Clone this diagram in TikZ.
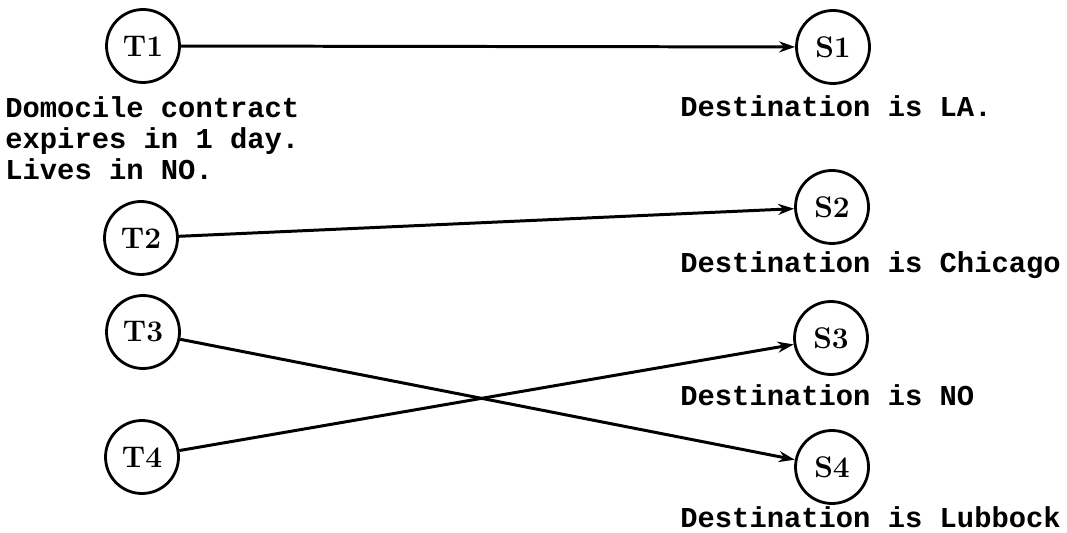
\documentclass[tikz,border=0pt]{standalone}
\usepackage{fontspec}
\setmonofont{Liberation Mono}
\usetikzlibrary{arrows,arrows.meta,shapes,positioning}

\begin{document}
\begin{tikzpicture}[x=0.02cm,y=-0.02cm,>={Stealth[length=3.2mm,width=2.2mm]},
	Edge/.style={->,black,line width=1.7pt},
	Task/.style={circle,draw=black,line width=1.6pt,minimum size=1.46cm,inner sep=0pt,font=\bfseries\fontsize{17}{17}\selectfont},
	Note/.style={align=left,inner sep=0pt,font=\ttfamily\bfseries\fontsize{16.4}{17.9}\selectfont},
]
	\useasboundingbox (0,0) rectangle (1067,533);

	\node[Task] (T1) at (143,46) {T1};
	\node[Task] (T2) at (141,238) {T2};
	\node[Task] (T3) at (143,332) {T3};
	\node[Task] (T4) at (142,457) {T4};

	\node[Task] (S1) at (833,47) {S1};
	\node[Task] (S2) at (832,207) {S2};
	\node[Task] (S3) at (831,338) {S3};
	\node[Task] (S4) at (832,467) {S4};

	% base of a multi-line note is its last line
	\node[Note,anchor=base west] (N1) at (5,180) {Domocile contract\\expires in 1 day.\\Lives in NO.};
	\node[Note,anchor=base west] (M1) at (680,117) {Destination is LA.};
	\node[Note,anchor=base west] (M2) at (680,273) {Destination is Chicago};
	\node[Note,anchor=base west] (M3) at (680,405) {Destination is NO};
	\node[Note,anchor=base west] (M4) at (680,527) {Destination is Lubbock};

	\path[Edge]
	(T1) edge (S1)
	(T2) edge (S2)
	(T3) edge (S4)
	(T4) edge (S3)
	;
\end{tikzpicture}
\end{document}
